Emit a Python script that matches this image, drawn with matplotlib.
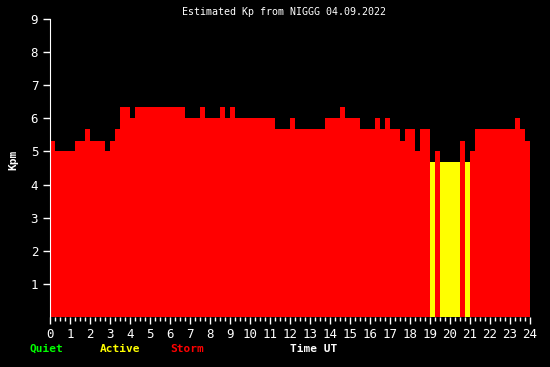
import matplotlib
matplotlib.use("Agg")
import matplotlib.pyplot as plt
import numpy as np

# Kp estimates, one per 15 min (96 intervals), values in thirds
kp = [5.33, 5.0, 5.0, 5.0, 5.0, 5.33, 5.33, 5.67,
      5.33, 5.33, 5.33, 5.0, 5.33, 5.67, 6.33, 6.33,
      6.0, 6.33, 6.33, 6.33, 6.33, 6.33, 6.33, 6.33,
      6.33, 6.33, 6.33, 6.0, 6.0, 6.0, 6.33, 6.0,
      6.0, 6.0, 6.33, 6.0, 6.33, 6.0, 6.0, 6.0,
      6.0, 6.0, 6.0, 6.0, 6.0, 5.67, 5.67, 5.67,
      6.0, 5.67, 5.67, 5.67, 5.67, 5.67, 5.67, 6.0,
      6.0, 6.0, 6.33, 6.0, 6.0, 6.0, 5.67, 5.67,
      5.67, 6.0, 5.67, 6.0, 5.67, 5.67, 5.33, 5.67,
      5.67, 5.0, 5.67, 5.67, 4.67, 5.0, 4.67, 4.67,
      4.67, 4.67, 5.33, 4.67, 5.0, 5.67, 5.67, 5.67,
      5.67, 5.67, 5.67, 5.67, 5.67, 6.0, 5.67, 5.33]
hours = np.arange(len(kp)) * 0.25
x_ticks = list(range(0, 25))
y_ticks = list(range(1, 10))

def kp_color(v):
    if v >= 5:
        return "#ff0000"
    if v >= 4:
        return "#ffff00"
    return "#00ff00"

fig = plt.figure(figsize=(5.5, 3.67), dpi=100, facecolor="black")
ax = fig.add_axes([50 / 550, 50 / 367, 480 / 550, 298 / 367], facecolor="black")

ax.bar(hours, kp, width=0.25, align="edge", color=[kp_color(v) for v in kp], linewidth=0)

ax.set_xlim(0, 24)
ax.set_ylim(0, 9)
ax.set_xticks(x_ticks)
ax.set_xticks(np.arange(0, 24.01, 0.25), minor=True)
ax.set_yticks(y_ticks)
ax.tick_params(colors="white", labelsize=9, length=5, width=1)
ax.tick_params(axis="x", which="minor", colors="white", length=3, width=1)
ax.tick_params(axis="x", which="major", length=5, pad=3)
for lbl in ax.get_xticklabels() + ax.get_yticklabels():
    lbl.set_family("DejaVu Sans Mono")

for s in ["top", "right", "bottom"]:
    ax.spines[s].set_visible(False)
ax.spines["left"].set_color("white")

mono = "DejaVu Sans Mono"
fig.text(284 / 550, 1 - 12 / 367, "Estimated Kp from NIGGG 04.09.2022", color="white",
         ha="center", va="center", fontsize=7.2, family=mono)
fig.text(13 / 550, 1 - 160 / 367, "Kpm", color="white", rotation=90, ha="center",
         va="center", fontsize=8, family=mono, weight="bold")
fig.text(30 / 550, 1 - 349 / 367, "Quiet", color="#00ff00", ha="left", va="center",
         fontsize=8, family=mono, weight="bold")
fig.text(100 / 550, 1 - 349 / 367, "Active", color="#ffff00", ha="left", va="center",
         fontsize=8, family=mono, weight="bold")
fig.text(170 / 550, 1 - 349 / 367, "Storm", color="#ff0000", ha="left", va="center",
         fontsize=8, family=mono, weight="bold")
fig.text(290 / 550, 1 - 349 / 367, "Time UT", color="white", ha="left", va="center",
         fontsize=8, family=mono, weight="bold")

fig.savefig("out.png", dpi=100, facecolor="black")
